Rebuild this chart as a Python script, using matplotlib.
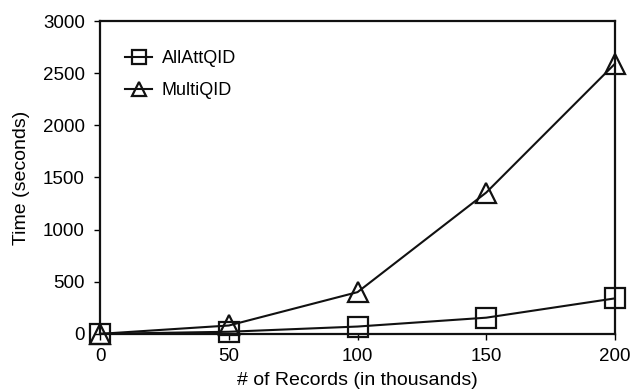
import matplotlib.pyplot as plt

plt.rcParams["font.family"] = ["Liberation Sans", "DejaVu Sans"]

# Data
records = [0, 50, 100, 150, 200]  # thousands
allattqid = [0, 20, 70, 155, 340]
multiqid = [0, 80, 400, 1355, 2590]

fig = plt.figure(figsize=(6.3, 3.9), dpi=100)
ax = fig.add_axes([0.159, 0.144, 0.817, 0.802])

ax.plot(records, allattqid, color="#111111", lw=1.5, marker="s", ms=14,
        mfc="none", mec="#111111", mew=1.6, clip_on=False, label="AllAttQID")
ax.plot(records, multiqid, color="#111111", lw=1.5, marker="^", ms=15,
        mfc="none", mec="#111111", mew=1.6, clip_on=False, label="MultiQID")

ax.set_xlim(0, 200)
ax.set_ylim(0, 3000)
ax.set_xticks(records)
ax.set_yticks(range(0, 3001, 500))
ax.tick_params(labelsize=13.5, length=4, width=1, direction="out")
ax.tick_params(axis="x", pad=6)
ax.tick_params(axis="y", pad=7)
ax.set_xlabel("# of Records (in thousands)", fontsize=14, labelpad=5)
ax.set_ylabel("Time (seconds)", fontsize=14, labelpad=9.5)
for s in ax.spines.values():
    s.set_linewidth(1.6)
    s.set_color("#111111")

ax.legend(loc="upper left", frameon=False, fontsize=13, markerscale=0.7,
          handlelength=1.5, handletextpad=0.5, labelspacing=0.83,
          bbox_to_anchor=(0.035, 0.93), borderaxespad=0)

fig.savefig("out.png", dpi=100)
